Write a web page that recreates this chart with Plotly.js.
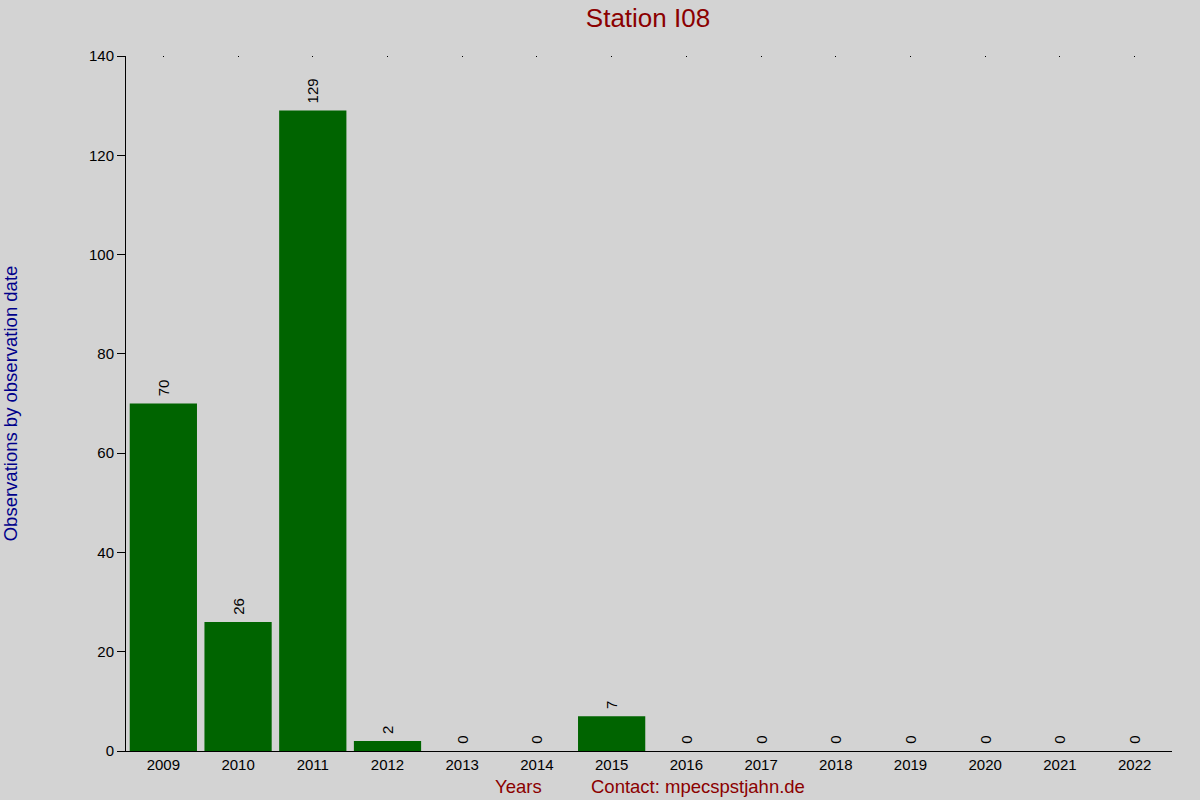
<!DOCTYPE html>
<html>
<head>
<meta charset="utf-8">
<script src="https://cdn.plot.ly/plotly-3.0.1.min.js"></script>
<style>
  html, body { margin: 0; padding: 0; background: #d3d3d3; }
  #chart { width: 1200px; height: 800px; }
</style>
</head>
<body>
<div id="chart"></div>
<script>
var years = ["2009", "2010", "2011", "2012", "2013", "2014", "2015",
             "2016", "2017", "2018", "2019", "2020", "2021", "2022"];
var observations = [70, 26, 129, 2, 0, 0, 7, 0, 0, 0, 0, 0, 0, 0];
var yTicks = [0, 20, 40, 60, 80, 100, 120, 140];

var bars = {
  x: years,
  y: observations,
  type: 'bar',
  marker: { color: '#006400' },
  texttemplate: '\u00a0%{y}',
  textposition: 'outside',
  textangle: -90,
  cliponaxis: false,
  textfont: { family: 'Liberation Sans, Arial, sans-serif', size: 15, color: '#000000' },
  hoverinfo: 'none'
};

// empty trace so the top axis (little dots over each year) gets drawn
var topTicks = {
  x: years,
  y: observations,
  xaxis: 'x2',
  type: 'scatter',
  mode: 'none',
  hoverinfo: 'skip'
};

var layout = {
  width: 1200,
  height: 800,
  paper_bgcolor: '#d3d3d3',
  plot_bgcolor: '#d3d3d3',
  margin: { l: 126, r: 28, t: 56, b: 49 },
  bargap: 0.1,
  showlegend: false,
  font: { family: 'Liberation Sans, Arial, sans-serif', size: 15, color: '#000000' },
  title: {
    text: 'Station I08',
    font: { size: 26, color: '#8b0000' },
    x: 0.54, xanchor: 'center',
    y: 0.978, yanchor: 'middle'
  },
  xaxis: {
    type: 'category',
    range: [-0.5, 13.5],
    showgrid: false,
    zeroline: false,
    showline: true,
    linecolor: '#000000',
    linewidth: 1,
    ticks: '',
    tickfont: { size: 15 }
  },
  xaxis2: {
    type: 'category',
    overlaying: 'x',
    matches: 'x',
    side: 'top',
    anchor: 'y',
    showgrid: false,
    zeroline: false,
    showline: false,
    ticks: 'inside',
    ticklen: 1,
    tickwidth: 1,
    tickcolor: '#000000',
    showticklabels: false
  },
  yaxis: {
    range: [0, 140],
    tickvals: yTicks,
    showgrid: false,
    zeroline: false,
    showline: true,
    linecolor: '#000000',
    linewidth: 1,
    ticks: 'outside',
    ticklen: 8,
    tickcolor: '#000000',
    tickfont: { size: 15 },
    title: {
      text: 'Observations by observation date',
      font: { size: 18.5, color: '#00008b' },
      standoff: 67
    }
  },
  annotations: [
    {
      text: 'Years', xref: 'paper', yref: 'paper',
      x: 0.375, y: -0.0505, xanchor: 'center', yanchor: 'middle',
      showarrow: false, font: { size: 18.5, color: '#8b0000' }
    },
    {
      text: 'Contact: mpecspstjahn.de', xref: 'paper', yref: 'paper',
      x: 0.547, y: -0.0505, xanchor: 'center', yanchor: 'middle',
      showarrow: false, font: { size: 18.5, color: '#8b0000' }
    }
  ]
};

Plotly.newPlot('chart', [bars, topTicks], layout, { displayModeBar: false, staticPlot: true });
</script>
</body>
</html>
